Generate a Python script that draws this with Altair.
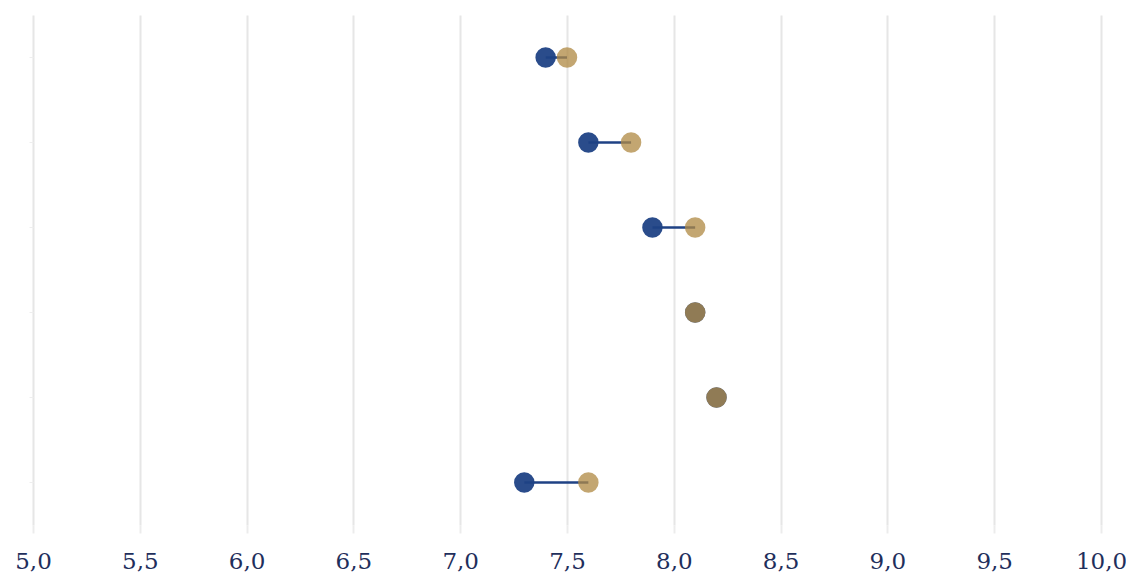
import altair as alt
import pandas as pd

rows = ["1", "2", "3", "4", "5", "6"]
blue_vals = [7.4, 7.6, 7.9, 8.1, 8.2, 7.3]
tan_vals = [7.5, 7.8, 8.1, 8.1, 8.2, 7.6]
x_ticks = [5.0, 5.5, 6.0, 6.5, 7.0, 7.5, 8.0, 8.5, 9.0, 9.5, 10.0]

wide = pd.DataFrame({"row": rows, "blue": blue_vals, "tan": tan_vals})

font = "DejaVu Serif"
x_scale = alt.Scale(domain=[5, 10], nice=False)
y_enc = alt.Y("row:N", sort=rows, scale=alt.Scale(paddingInner=0, paddingOuter=0),
              axis=alt.Axis(title=None, labels=False, domain=False, grid=False,
                            ticks=True, tickSize=4, tickColor="#eeeeee", tickWidth=1))

x_axis = alt.Axis(title=None, values=x_ticks, grid=True, gridColor="#e6e6e6", gridWidth=2,
                  domain=False, ticks=True, tickSize=8, tickColor="#ececec", tickWidth=2,
                  labelExpr="replace(format(datum.value, '.1f'), '.', ',')",
                  labelFlush=False,
                  labelFont=font, labelFontSize=23, labelColor="#1f2f5c", labelPadding=17)

base = alt.Chart(wide)

line = base.mark_rule(color="#1f4285", strokeWidth=2.5).encode(
    x=alt.X("blue:Q", scale=x_scale, axis=x_axis),
    x2="tan:Q",
    y=y_enc,
)
blue = base.mark_circle(size=420, color="#1f4285", opacity=0.95).encode(
    x=alt.X("blue:Q", scale=x_scale), y=alt.Y("row:N", sort=rows)
)
tan = base.mark_circle(size=420, color="#b08a45", opacity=0.76).encode(
    x=alt.X("tan:Q", scale=x_scale), y=alt.Y("row:N", sort=rows)
)

chart = alt.layer(line, blue, tan).properties(
    width=1068, height=510,
    autosize=alt.AutoSizeParams(type="none"),
    padding={"left": 25, "top": 7, "right": 25, "bottom": 52},
    background="white",
).configure_view(stroke=None)

chart.save("out.html", embed_options={"renderer": "svg", "actions": False})
